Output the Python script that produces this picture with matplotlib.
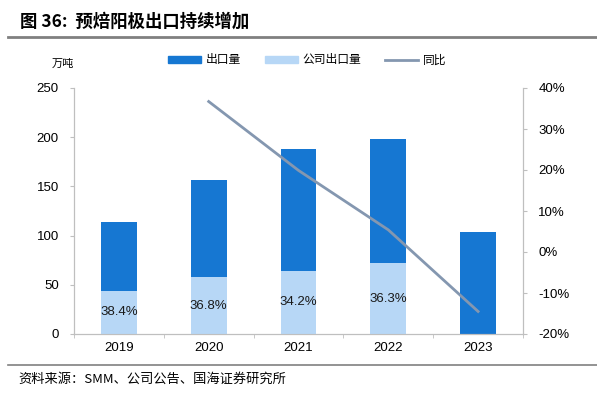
import numpy as np
import matplotlib.pyplot as plt
from matplotlib.lines import Line2D
from matplotlib.patches import Patch

plt.rcParams['font.family'] = ['Liberation Sans', 'Noto Sans CJK SC']

years = ['2019', '2020', '2021', '2022', '2023']
total_export = [114.0, 156.5, 187.7, 197.8, 103.7]      # 出口量, 万吨
company_export = [43.8, 57.6, 64.2, 71.8, 0.0]          # 公司出口量, 万吨
company_share = ['38.4%', '36.8%', '34.2%', '36.3%', '']
yoy_years = ['2020', '2021', '2022', '2023']
yoy = [36.7, 19.9, 5.4, -14.5]                          # 同比, %

dark_blue = '#1677D2'
light_blue = '#B7D7F6'
line_color = '#8497B0'
axis_gray = '#BFBFBF'
cjk = ['Noto Sans CJK SC', 'Liberation Sans']

fig = plt.figure(figsize=(5.97, 3.95), dpi=100)
ax = fig.add_axes([74 / 597, 1 - 334 / 395, 449 / 597, 246 / 395])
ax2 = ax.twinx()

x = np.arange(len(years))
w = 0.4
ax.bar(x, total_export, width=w, color=dark_blue, zorder=2)
ax.bar(x, company_export, width=w, color=light_blue, zorder=3)

# share labels sit in the middle of the light segment
for xi, v, s in zip(x, company_export, company_share):
    if s:
        ax.text(xi, v / 2, s, ha='center', va='center', fontsize=9.5,
                color='#1a1a1a', zorder=4)

yoy_x = [years.index(y) for y in yoy_years]
ax2.plot(yoy_x, yoy, color=line_color, linewidth=2, zorder=5)

ax.set_xlim(-0.5, len(years) - 0.5)
ax.set_ylim(0, 250)
ax.set_yticks(range(0, 251, 50))
ax2.set_ylim(-20, 40)
ax2.set_yticks(range(-20, 41, 10))
ax2.set_yticklabels([f'{v}%' for v in range(-20, 41, 10)])

ax.set_xticks(x)
ax.set_xticklabels(years)
ax.set_xticks(np.arange(-0.5, len(years), 1), minor=True)
ax.tick_params(axis='x', which='major', length=0, pad=6, labelsize=9.5)
ax.tick_params(axis='x', which='minor', length=3, color=axis_gray, direction='out')
ax.tick_params(axis='y', length=3, color=axis_gray, labelsize=9.5, pad=8)
ax2.tick_params(axis='y', length=3, color=axis_gray, labelsize=9.5, pad=8)

for a in (ax, ax2):
    a.spines['top'].set_visible(False)
    for s in ('left', 'right', 'bottom'):
        a.spines[s].set_color(axis_gray)
        a.spines[s].set_linewidth(0.8)

fig.text(52 / 597, 1 - 64 / 395, '万吨', fontsize=8, family=cjk, va='center')

handles = [Patch(color=dark_blue), Patch(color=light_blue),
           Line2D([0], [0], color=line_color, lw=2)]
fig.legend(handles, ['出口量', '公司出口量', '同比'], loc='center',
           bbox_to_anchor=(307 / 597, 1 - 60 / 395), ncol=3, frameon=False,
           prop={'family': cjk, 'size': 8.5}, handlelength=2.8,
           handleheight=0.6, columnspacing=2.0, handletextpad=0.4)

fig.text(20 / 597, 1 - 22 / 395, '图 36:  预焙阳极出口持续增加', fontsize=12.5,
         fontweight='bold', family=cjk, va='center')
fig.add_artist(Line2D([8 / 597, 1], [1 - 37 / 395] * 2, color='#808080', lw=2))
fig.add_artist(Line2D([8 / 597, 1], [1 - 365 / 395] * 2, color='#808080', lw=1.2))
fig.text(18 / 597, 1 - 379 / 395, '资料来源：SMM、公司公告、国海证券研究所', fontsize=9.5,
         family=cjk, va='center')

fig.savefig('out.png', dpi=100)
